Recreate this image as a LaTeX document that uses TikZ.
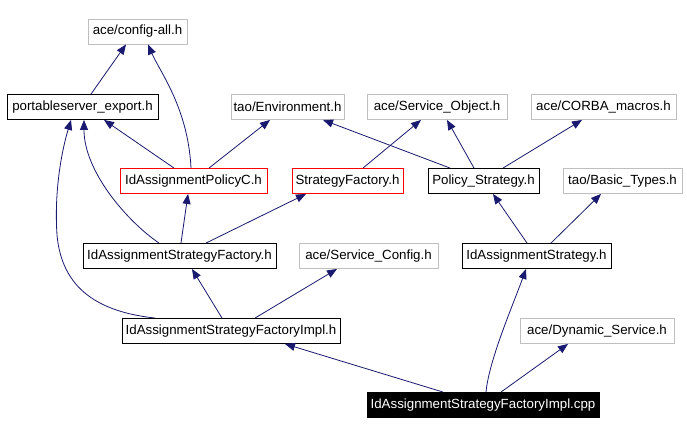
\documentclass[tikz,border=0pt]{standalone}
\usepackage{fontspec}
\setmainfont{Liberation Sans}
\usetikzlibrary{arrows.meta}
\definecolor{edgeblue}{HTML}{191970}
\definecolor{extgray}{HTML}{BFBFBF}
\tikzset{
  box/.style={draw, line width=0.9pt, inner sep=0pt, minimum height=25pt, font=\fontsize{13.3}{15}\selectfont, text=black},
  extbox/.style={box, draw=extgray},
  intbox/.style={box, draw=black},
  redbox/.style={box, draw=red},
  mainbox/.style={box, draw=black, fill=black, text=white},
  edge/.style={draw=edgeblue, line width=0.8pt, -{Triangle[length=10pt,width=8pt]}, edgeblue}
}
\begin{document}
\begin{tikzpicture}[x=1pt,y=-1pt]
\useasboundingbox (0,0) rectangle (687,435);
\fill[white] (0,0) rectangle (687,435);
% nodes
\node[extbox, minimum width=99pt]  (cfg)  at (137.5,31.5) {ace/config-all.h};
\node[intbox, minimum width=151pt] (pse)  at (82.5,107) {portableserver\_export.h};
\node[extbox, minimum width=113pt] (env)  at (287.5,107) {tao/Environment.h};
\node[extbox, minimum width=140pt] (so)   at (437,107) {ace/Service\_Object.h};
\node[extbox, minimum width=145pt] (cm)   at (603.5,107) {ace/CORBA\_macros.h};
\node[redbox, minimum width=147pt] (pol)  at (193.5,181) {IdAssignmentPolicyC.h};
\node[redbox, minimum width=111pt] (sf)   at (347.5,181) {StrategyFactory.h};
\node[intbox, minimum width=111pt] (ps)   at (483.5,181) {Policy\_Strategy.h};
\node[extbox, minimum width=119pt] (bt)   at (622.5,181) {tao/Basic\_Types.h};
\node[intbox, minimum width=193pt] (isf)  at (179.5,256) {IdAssignmentStrategyFactory.h};
\node[extbox, minimum width=139pt] (sc)   at (368.5,256) {ace/Service\_Config.h};
\node[intbox, minimum width=149pt] (is)   at (536.5,256) {IdAssignmentStrategy.h};
\node[intbox, minimum width=218pt] (impl) at (231,331) {IdAssignmentStrategyFactoryImpl.h};
\node[extbox, minimum width=154pt] (ds)   at (597,331) {ace/Dynamic\_Service.h};
\node[mainbox, minimum width=232pt] (cpp) at (483,405) {IdAssignmentStrategyFactoryImpl.cpp};
% edges
\draw[edge] ([xshift=8.5pt]pse.north) -- ([xshift=-11.5pt]cfg.south);
\draw[edge] ([xshift=-2.5pt]pol.north) .. controls (188,108) and (160,72) .. ([xshift=10.5pt]cfg.south);
\draw[edge] ([xshift=-19.5pt]pol.north) -- ([xshift=21.5pt]pse.south);
\draw[edge] ([xshift=15.5pt]pol.north) -- ([xshift=-17.5pt]env.south);
\draw[edge] ([xshift=15.5pt]sf.north) -- ([xshift=-16pt]so.south);
\draw[edge] ([xshift=-33.5pt]ps.north) -- ([xshift=35.5pt]env.south);
\draw[edge] ([xshift=-9.5pt]ps.north) -- ([xshift=10pt]so.south);
\draw[edge] ([xshift=19.5pt]ps.north) -- ([xshift=-21.5pt]cm.south);
\draw[edge] ([xshift=-20.5pt]isf.north) .. controls (128,222) and (84,172) .. ([xshift=1.5pt]pse.south);
\draw[edge] ([xshift=1.5pt]isf.north) -- ([xshift=-5.5pt]pol.south);
\draw[edge] ([xshift=26.5pt]isf.north) -- ([xshift=-41.5pt]sf.south);
\draw[edge] ([xshift=-9.5pt]is.north) -- ([xshift=9.5pt]ps.south);
\draw[edge] ([xshift=14.5pt]is.north) -- ([xshift=-21.5pt]bt.south);
\draw[edge] ([xshift=-76pt]impl.north) .. controls (100,312) and (62,290) .. (57,235) .. controls (54,190) and (62,150) .. ([xshift=-11.5pt]pse.south);
\draw[edge] ([xshift=-9pt]impl.north) -- ([xshift=12.5pt]isf.south);
\draw[edge] ([xshift=24pt]impl.north) -- ([xshift=-31.5pt]sc.south);
\draw[edge] ([xshift=-40pt]cpp.north) -- ([xshift=54pt]impl.south);
\draw[edge] ([xshift=3pt]cpp.north) .. controls (489,360) and (513,305) .. ([xshift=-10.5pt]is.south);
\draw[edge] ([xshift=18pt]cpp.north) -- ([xshift=-29pt]ds.south);
\end{tikzpicture}
\end{document}
